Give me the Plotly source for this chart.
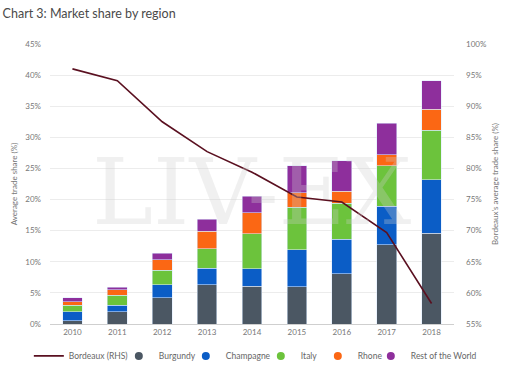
import plotly.graph_objects as go

years = ["2010", "2011", "2012", "2013", "2014", "2015", "2016", "2017", "2018"]
burgundy = [0.5, 2.0, 4.2, 6.3, 6.1, 6.0, 8.1, 12.7, 14.6]
champagne = [1.5, 1.0, 2.1, 2.7, 2.8, 5.9, 5.5, 6.2, 8.6]
italy = [1.0, 1.6, 2.3, 3.1, 5.6, 6.9, 5.8, 6.5, 7.9]
rhone = [0.6, 0.9, 1.7, 2.8, 3.4, 2.3, 1.9, 1.8, 3.4]
rest_world = [0.6, 0.4, 1.1, 1.9, 2.6, 4.3, 4.9, 5.1, 4.6]
bordeaux = [96.0, 94.1, 87.5, 82.7, 79.4, 75.4, 74.6, 69.7, 58.3]

left_ticks = [0, 5, 10, 15, 20, 25, 30, 35, 40, 45]
right_ticks = [55, 60, 65, 70, 75, 80, 85, 90, 95, 100]

series = [
    ("Burgundy", burgundy, "#4b5763", 22),
    ("Champagne", champagne, "#0b5dc6", 30),
    ("Italy", italy, "#6cc33c", 12),
    ("Rhone", rhone, "#fb6714", 8),
    ("Rest of the World", rest_world, "#8e2f9c", 62),
]

FONT = "Lato, Open Sans, sans-serif"
fig = go.Figure()

fig.add_trace(go.Scatter(
    x=years, y=bordeaux, name="Bordeaux (RHS)", mode="lines",
    line=dict(color="#5a1020", width=1.6), yaxis="y2", showlegend=True,
    legendwidth=45,
))

for name, vals, col, lw in series:
    fig.add_trace(go.Bar(
        x=years, y=vals, name=name,
        marker=dict(color=col, line=dict(color="rgba(220,235,255,0.9)", width=0.6)),
        showlegend=False,
    ))

for name, vals, col, lw in series:
    fig.add_trace(go.Scatter(
        x=[None], y=[None], name=name, mode="markers",
        marker=dict(color=col, size=8, symbol="circle"), legendwidth=lw,
    ))

fig.update_layout(
    width=520, height=381,
    margin=dict(l=50, r=66, t=44, b=57, autoexpand=False),
    barmode="stack", bargap=0.56,
    paper_bgcolor="white", plot_bgcolor="white",
    font=dict(family=FONT, size=8, color="#777777"),
    title=dict(text="Chart 3: Market share by region", x=0.005, xanchor="left", y=0.975, yanchor="top",
               font=dict(family=FONT, size=12.5, color="#4a4a4a")),
    xaxis=dict(type="category", showgrid=False, showline=True, linecolor="#cfcfcf",
               ticks="", tickfont=dict(size=8, color="#777777")),
    yaxis=dict(range=[0, 45], tickvals=left_ticks, ticktext=[f"{v}%" for v in left_ticks],
               showgrid=True, gridcolor="#ececec", zeroline=False, ticklabelstandoff=8,
               title=dict(text="Average trade share (%)", font=dict(size=8, color="#777777"), standoff=6)),
    yaxis2=dict(range=[55, 100], tickvals=right_ticks, ticktext=[f"{v}%" for v in right_ticks],
                overlaying="y", side="right", showgrid=False, zeroline=False, ticklabelstandoff=11,
                title=dict(text="Bordeaux's average trade share (%)", font=dict(size=8, color="#777777"), standoff=6)),
    legend=dict(orientation="h", x=1.059, xanchor="right",
                y=-0.114, yanchor="middle", itemwidth=30,
                font=dict(size=8.5, color="#666666"), traceorder="normal"),
    annotations=[dict(text="LIV-EX", x=0.5, y=0.47, xref="paper", yref="paper", showarrow=False,
                      font=dict(family="DejaVu Serif, serif", size=92, color="rgba(205,205,205,0.3)"))],
)

fig.write_html("out.html", config={"displayModeBar": False},
               post_script="document.body.style.margin='0';")
